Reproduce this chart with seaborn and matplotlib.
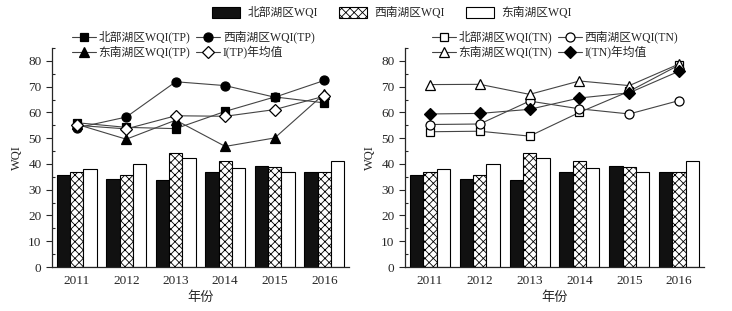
import matplotlib
matplotlib.use("Agg")
import matplotlib.pyplot as plt
from matplotlib.patches import Patch
from matplotlib.ticker import MultipleLocator
import numpy as np
import pandas as pd
import seaborn as sns

years = ["2011", "2012", "2013", "2014", "2015", "2016"]
regions = ["北部湖区WQI", "西南湖区WQI", "东南湖区WQI"]

# bar values (same in both panels)
wqi_north = [35.9, 34.2, 33.9, 36.8, 39.2, 37.0]
wqi_sw = [37.0, 35.9, 44.4, 41.3, 38.9, 36.8]
wqi_se = [38.2, 39.8, 42.2, 38.4, 37.0, 41.3]

# TP lines
tp_north = [56.0, 54.2, 53.7, 60.4, 66.0, 63.7]
tp_sw = [54.0, 58.2, 71.9, 70.4, 65.9, 72.4]
tp_se = [55.4, 49.6, 57.0, 46.8, 50.1, 67.2]
tp_mean = [55.0, 53.6, 58.7, 58.5, 61.1, 66.3]

# TN lines
tn_north = [52.5, 52.7, 50.8, 60.0, 68.2, 78.4]
tn_sw = [55.3, 55.5, 64.4, 61.4, 59.4, 64.6]
tn_se = [70.8, 70.9, 67.0, 72.2, 70.4, 78.8]
tn_mean = [59.4, 59.6, 61.2, 65.6, 67.6, 76.0]

tp_labels = ["北部湖区WQI(TP)", "西南湖区WQI(TP)", "东南湖区WQI(TP)", "I(TP)年均值"]
tn_labels = ["北部湖区WQI(TN)", "西南湖区WQI(TN)", "东南湖区WQI(TN)", "I(TN)年均值"]

sns.set_style("ticks")
plt.rcParams["font.family"] = ["Liberation Serif", "Noto Sans CJK SC"]
plt.rcParams["hatch.linewidth"] = 0.6

bars = pd.DataFrame({
    "year": years * 3,
    "region": np.repeat(regions, len(years)),
    "wqi": wqi_north + wqi_sw + wqi_se,
})

fig = plt.figure(figsize=(7.32, 3.11), dpi=100)
ax1 = fig.add_axes([52 / 732, 44 / 311, 297 / 732, 219 / 311])
ax2 = fig.add_axes([405 / 732, 44 / 311, 299 / 732, 219 / 311])

line_col = "#444444"
tp_series = [tp_north, tp_sw, tp_se, tp_mean]
tn_series = [tn_north, tn_sw, tn_se, tn_mean]
tp_styles = [("s", "black"), ("o", "black"), ("^", "black"), ("D", "white")]
tn_styles = [("s", "white"), ("o", "white"), ("^", "white"), ("D", "black")]
msizes = {"s": 6, "o": 6.5, "^": 7, "D": 6}


def draw_panel(ax, series, styles, labels, leg_x):
    sns.barplot(data=bars, x="year", y="wqi", hue="region", hue_order=regions,
                palette=["#111111", "white", "white"], edgecolor="black",
                linewidth=0.8, width=0.8, saturation=1, legend=False, ax=ax)
    for bar in ax.containers[1]:
        bar.set_hatch("xxxx")
    handles = []
    idx = np.arange(len(years))
    for vals, (m, fc), lab in zip(series, styles, labels):
        sns.lineplot(x=idx, y=vals, color=line_col, linewidth=0.8, marker=m,
                     markersize=msizes[m], markerfacecolor=fc, markeredgecolor="black",
                     markeredgewidth=0.9, ax=ax, label=lab, legend=False)
        handles.append(ax.lines[-1])
    ax.set_xlim(-0.5, 5.5)
    ax.set_ylim(0, 85)
    ax.yaxis.set_minor_locator(MultipleLocator(5))
    ax.set_yticks(np.arange(0, 81, 10))
    ax.tick_params(axis="y", which="major", direction="out", length=4, width=0.8, labelsize=9.5)
    ax.tick_params(axis="y", which="minor", direction="in", length=2.5, width=0.8)
    ax.tick_params(axis="x", length=0, labelsize=9.5, pad=6)
    for s in ["top", "right"]:
        ax.spines[s].set_visible(False)
    for s in ["left", "bottom"]:
        ax.spines[s].set_linewidth(0.9)
    ax.set_xlabel("年份", fontsize=9.5, labelpad=3)
    ax.set_ylabel("WQI", fontsize=9, labelpad=4)
    # row-wise order: north, sw / se, mean
    order = [0, 2, 1, 3]
    fig.legend(handles=[handles[i] for i in order], labels=[labels[i] for i in order],
               ncol=2, loc="upper left",
               bbox_to_anchor=(leg_x / 732, 1 - 31 / 311), frameon=False,
               fontsize=8.5, handlelength=2.0, handletextpad=0.25, columnspacing=0.5,
               labelspacing=0.2, borderpad=0, borderaxespad=0)


draw_panel(ax1, tp_series, tp_styles, tp_labels, 72)
draw_panel(ax2, tn_series, tn_styles, tn_labels, 432)

bar_handles = [
    Patch(facecolor="#111111", edgecolor="black", linewidth=0.8),
    Patch(facecolor="white", edgecolor="black", linewidth=0.8, hatch="xxxx"),
    Patch(facecolor="white", edgecolor="black", linewidth=0.8),
]
fig.legend(handles=bar_handles, labels=regions, ncol=3, loc="center",
           bbox_to_anchor=(392 / 732, 1 - 13 / 311), frameon=False, fontsize=8.5,
           handlelength=2.4, handleheight=1.1, handletextpad=0.6, columnspacing=1.8)

fig.savefig("out.png", dpi=100)
